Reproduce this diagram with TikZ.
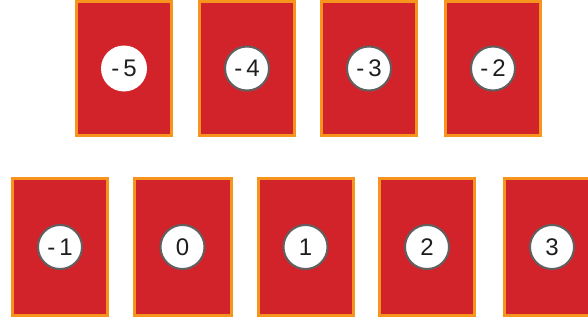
\documentclass[tikz,border=0pt]{standalone}
\usepackage{fontspec}
\setmainfont{Liberation Sans}
\definecolor{cardred}{HTML}{D2232A}
\definecolor{cardedge}{HTML}{F7941D}
\definecolor{ringgray}{HTML}{606060}
\definecolor{numgray}{HTML}{1E1E1E}
\begin{document}
\begin{tikzpicture}[x=1pt,y=-1pt,
  card/.style={draw=cardedge,fill=cardred,line width=3pt,minimum width=95pt,inner sep=0pt,outer sep=0pt},
  topcard/.style={card,minimum height=134pt},
  botcard/.style={card,minimum height=137pt},
  chip/.style={circle,fill=white,draw=ringgray,line width=2pt,minimum size=44pt,inner sep=0pt,
    text=numgray,font=\fontsize{24}{24}\selectfont},
  plainchip/.style={chip,draw=none,minimum size=46pt}]
\useasboundingbox (0,0) rectangle (588,321);
\clip (0,0) rectangle (588,321);
% top row
\node[topcard] (c1) at (124,68.5) {};
\node[topcard] (c2) at (247,68.5) {};
\node[topcard] (c3) at (369,68.5) {};
\node[topcard] (c4) at (493,68.5) {};
% bottom row
\node[botcard] (c5) at (60,247) {};
\node[botcard,minimum width=97pt] (c6) at (182.5,247) {};
\node[botcard] (c7) at (305.5,247) {};
\node[botcard] (c8) at (427,247) {};
\node[botcard] (c9) at (552,247) {};
% chips
\node[plainchip] (n1) at (c1.center) {-\kern4pt5};
\node[chip] (n2) at (c2.center) {-\kern4pt4};
\node[chip] (n3) at (c3.center) {-\kern4pt3};
\node[chip] (n4) at (c4.center) {-\kern4pt2};
\node[chip] (n5) at (c5.center) {-\kern4pt1};
\node[chip] (n6) at (c6.center) {0};
\node[chip] (n7) at (c7.center) {1};
\node[chip] (n8) at (c8.center) {2};
\node[chip] (n9) at (c9.center) {3};
\end{tikzpicture}
\end{document}
